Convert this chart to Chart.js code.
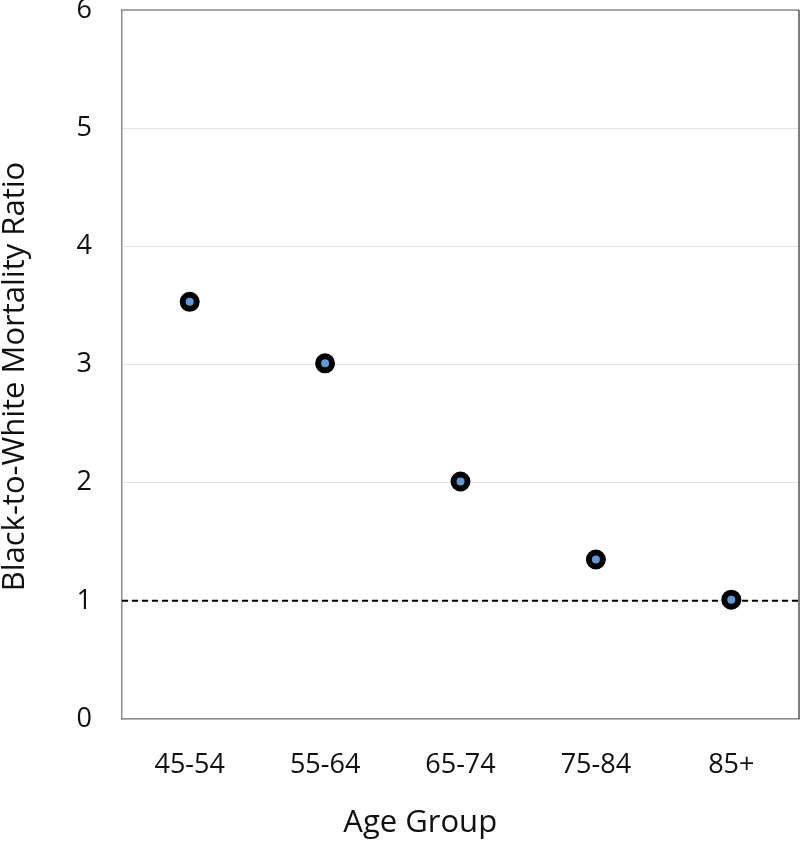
<!DOCTYPE html>
<html>
<head>
<meta charset="utf-8">
<script src="https://cdn.jsdelivr.net/npm/chart.js@4"></script>
<style>
  html, body { margin: 0; padding: 0; background: #fff; }
  #wrap { width: 800px; height: 842px; }
</style>
</head>
<body>
<div id="wrap"><canvas id="chart"></canvas></div>
<script>
const ageGroups = ["45-54", "55-64", "65-74", "75-84", "85+"];
const mortalityRatio = [3.53, 3.01, 2.01, 1.35, 1.01];
const referenceRatio = 1;
const yTicks = [0, 1, 2, 3, 4, 5, 6];

const fontFamily = "'Open Sans', sans-serif";

const points = ageGroups.map((_, i) => ({ x: i + 1, y: mortalityRatio[i] }));
const refLine = [
  { x: 0.5, y: referenceRatio },
  { x: ageGroups.length + 0.5, y: referenceRatio }
];

// titles in the original sit a bit off the plot centre; trailing spaces nudge them
const xTitle = "Age Group" + " ".repeat(10);
const yTitle = "Black-to-White Mortality Ratio" + " ".repeat(3);

// plot frame (top/right border) drawn under the datasets
const framePlugin = {
  id: "frame",
  beforeDatasetsDraw(chart) {
    const { ctx, chartArea: a } = chart;
    ctx.save();
    ctx.strokeStyle = "#8c8c8c";
    ctx.lineWidth = 1.5;
    ctx.beginPath();
    ctx.moveTo(a.left, a.top);
    ctx.lineTo(a.right, a.top);
    ctx.stroke();
    ctx.strokeStyle = "#555";
    ctx.beginPath();
    ctx.moveTo(a.right, a.top);
    ctx.lineTo(a.right, a.bottom);
    ctx.stroke();
    ctx.restore();
  }
};

new Chart(document.getElementById("chart"), {
  type: "scatter",
  data: {
    datasets: [
      {
        data: refLine,
        showLine: true,
        borderColor: "#000",
        borderWidth: 2,
        borderDash: [6, 4],
        pointRadius: 0,
        order: 2
      },
      {
        data: points,
        pointRadius: 7,
        pointBorderWidth: 6,
        pointBorderColor: "#000",
        pointBackgroundColor: "#5b9bd5",
        order: 1
      }
    ]
  },
  options: {
    responsive: true,
    maintainAspectRatio: false,
    animation: false,
    layout: { autoPadding: false, padding: { top: 10, right: 1, bottom: 0, left: 0 } },
    plugins: {
      legend: { display: false },
      tooltip: { enabled: false }
    },
    scales: {
      x: {
        type: "linear",
        min: 0.5,
        max: ageGroups.length + 0.5,
        afterBuildTicks: (scale) => {
          scale.ticks = ageGroups.map((_, i) => ({ value: i + 1 }));
        },
        afterFit: (scale) => {
          scale.height = 123;
          scale.paddingLeft = 0;
          scale.paddingRight = 0;
        },
        grid: { display: false, drawTicks: false },
        border: { color: "#8c8c8c", width: 1.5 },
        ticks: {
          padding: 30,
          color: "#111",
          font: { family: fontFamily, size: 27 },
          callback: (v) => ageGroups[v - 1]
        },
        title: {
          display: true,
          text: xTitle,
          color: "#111",
          font: { family: fontFamily, size: 31 },
          padding: { top: 0, bottom: 0 }
        }
      },
      y: {
        min: 0,
        max: 6,
        afterBuildTicks: (scale) => {
          scale.ticks = yTicks.map((v) => ({ value: v }));
        },
        afterFit: (scale) => {
          scale.width = 122;
          scale.paddingTop = 0;
          scale.paddingBottom = 0;
        },
        grid: { color: "#e3e3e3", lineWidth: 1, drawTicks: false },
        border: { color: "#8c8c8c", width: 1.5 },
        ticks: {
          padding: 30,
          color: "#111",
          font: { family: fontFamily, size: 27 }
        },
        title: {
          display: true,
          text: yTitle,
          color: "#111",
          font: { family: fontFamily, size: 31, lineHeight: 1 },
          padding: { top: 0, bottom: 0 }
        }
      }
    }
  },
  plugins: [framePlugin]
});
</script>
</body>
</html>
